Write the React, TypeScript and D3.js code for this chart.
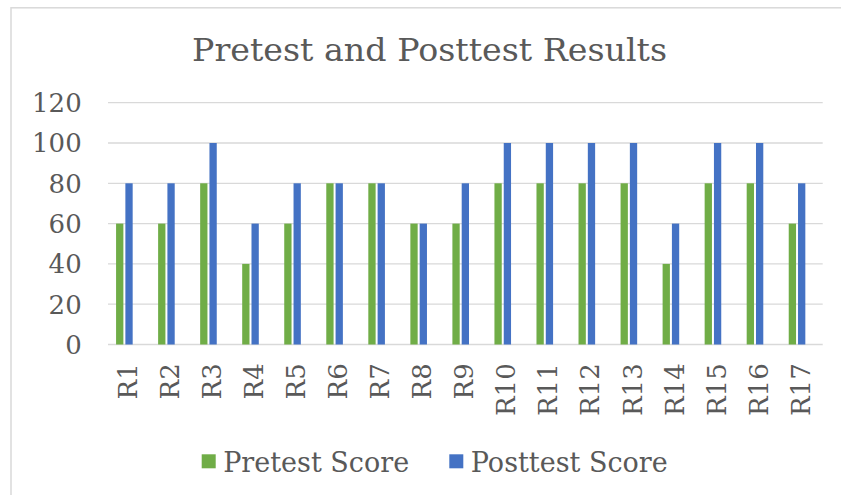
import React from "react";
import * as d3 from "d3";

const categories = ["R1","R2","R3","R4","R5","R6","R7","R8","R9","R10","R11","R12","R13","R14","R15","R16","R17"];
const pretest = [60,60,80,40,60,80,80,60,60,80,80,80,80,40,80,80,60];
const posttest = [80,80,100,60,80,80,80,60,80,100,100,100,100,60,100,100,80];
const yTicks = [0,20,40,60,80,100,120];
const seriesNames = ["Pretest Score","Posttest Score"];
const seriesColors = ["#70ad47","#4472c4"];

export default function App() {
  const W = 841, H = 495;
  const font = "'DejaVu Serif', serif";
  const textColor = "#595959";
  const x = d3.scaleBand<string>().domain(categories).range([108, 822.7]);
  const sub = d3.scaleBand<string>().domain(["pre","post","empty"]).range([0, 25.9]).paddingInner(0.215);
  const y = d3.scaleLinear().domain([0, 120]).range([344.5, 102.7]);
  const groupStart = (c: string) => (x(c) as number) + x.bandwidth() / 2 - 12.95;
  const series = [pretest, posttest];
  const subKeys = ["pre","post"];
  return (
    <svg width={W} height={H} style={{ position: "absolute", left: 0, top: 0, background: "#fff" }}>
      <rect x={0} y={0} width={W} height={H} fill="#fff" />
      <rect x={11} y={7.8} width={1000} height={700} fill="none" stroke="#d9d9d9" strokeWidth={1.5} />
      <text x={429.5} y={60.7} textAnchor="middle" fontFamily={font} fontSize={32.5} fill={textColor}
        textLength={475} lengthAdjust="spacingAndGlyphs">Pretest and Posttest Results</text>
      {yTicks.map(t => (
        <g key={t}>
          <line x1={108} x2={822.7} y1={y(t)} y2={y(t)} stroke="#d9d9d9" strokeWidth={1.3} />
          <text x={81.7} y={y(t)} dy="0.36em" textAnchor="end" fontFamily={font} fontSize={26} fill={textColor}>{t}</text>
        </g>
      ))}
      {series.map((vals, si) =>
        vals.map((v, i) => {
          const c = categories[i];
          return (
            <rect key={si + "-" + c} x={groupStart(c) + (sub(subKeys[si]) as number)} width={sub.bandwidth()}
              y={y(v)} height={y(0) - y(v)} fill={seriesColors[si]} />
          );
        })
      )}
      {categories.map(c => {
        const cx = (x(c) as number) + x.bandwidth() / 2;
        return (
          <text key={c} transform={`translate(${cx + 8},363.3) rotate(-90)`} textAnchor="end"
            fontFamily={font} fontSize={26} fill={textColor}>{c}</text>
        );
      })}
      {seriesNames.map((n, i) => {
        const lx = [201.7, 449.3][i];
        return (
          <g key={n}>
            <rect x={lx} y={454.3} width={14} height={14} fill={seriesColors[i]} />
            <text x={lx + 21.5} y={471.7} fontFamily={font} fontSize={27} fill={textColor}>{n}</text>
          </g>
        );
      })}
    </svg>
  );
}
